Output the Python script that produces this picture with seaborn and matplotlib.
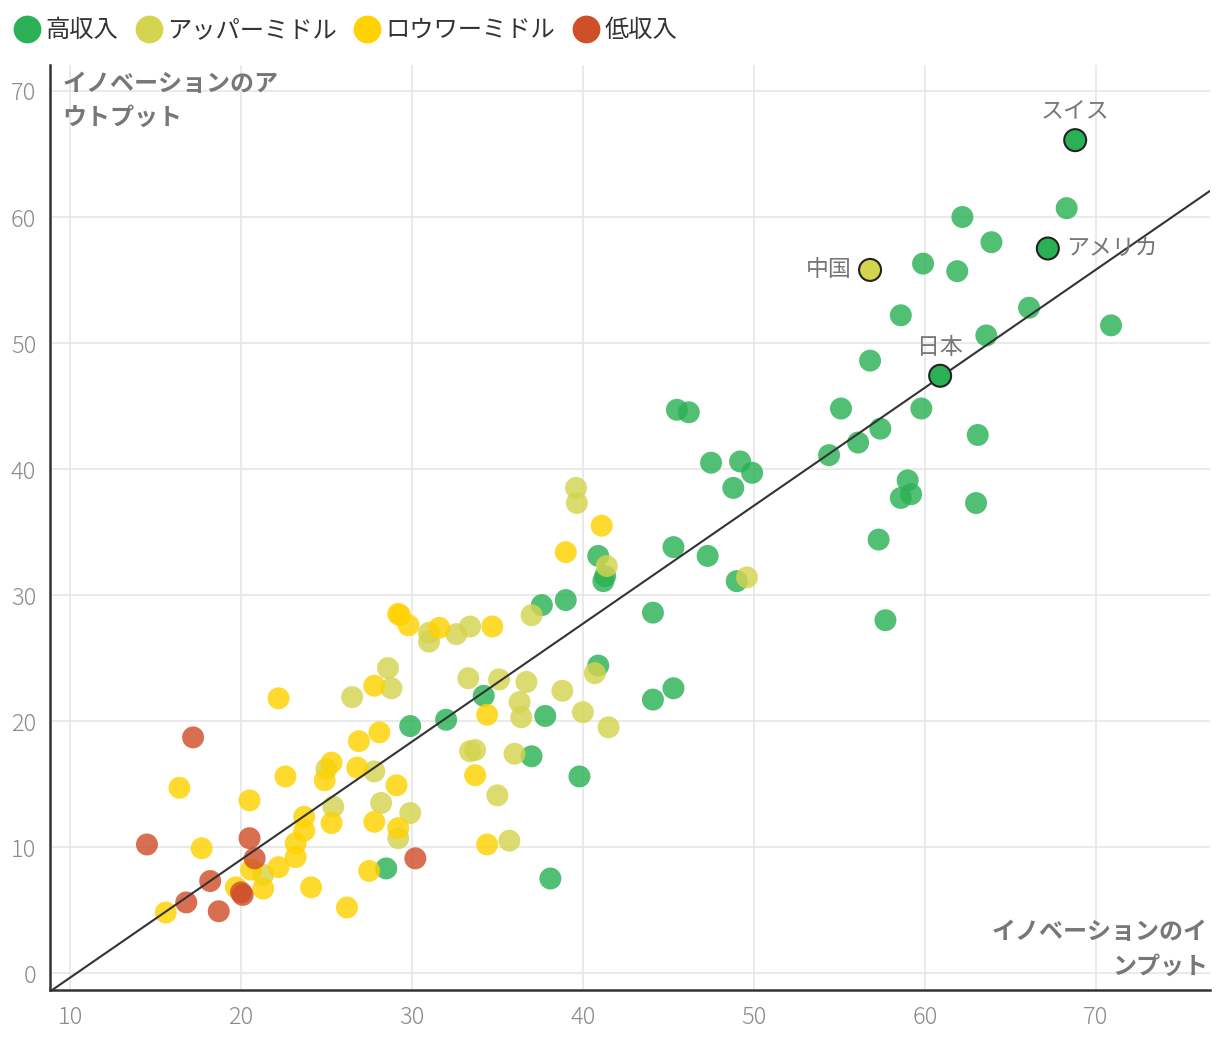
import numpy as np
import pandas as pd
import matplotlib
matplotlib.use('Agg')
import matplotlib.pyplot as plt
from matplotlib.lines import Line2D
import seaborn as sns

# イノベーションのインプット (x) / アウトプット (y)
high_x = [68.8, 67.2, 60.9, 68.3, 62.2, 59.9, 61.9, 63.9, 66.1, 70.9, 58.6, 63.6, 56.8, 59.8, 55.1,
          45.5, 46.2, 57.4, 56.1, 54.4, 63.1, 47.5, 49.2, 49.9, 48.8, 59.0, 58.6, 59.2, 63.0, 57.3,
          45.3, 47.3, 49.0, 40.9, 41.3, 41.2, 57.7, 44.1, 39.0, 37.6, 40.9, 34.2, 32.0, 29.9, 44.1,
          45.3, 37.8, 37.0, 39.8, 28.5, 38.1]
high_y = [66.1, 57.5, 47.4, 60.7, 60.0, 56.3, 55.7, 58.0, 52.8, 51.4, 52.2, 50.6, 48.6, 44.8, 44.8,
          44.7, 44.5, 43.2, 42.1, 41.1, 42.7, 40.5, 40.6, 39.7, 38.5, 39.1, 37.7, 38.0, 37.3, 34.4,
          33.8, 33.1, 31.1, 33.1, 31.5, 31.1, 28.0, 28.6, 29.6, 29.2, 24.4, 22.0, 20.1, 19.6, 21.7,
          22.6, 20.4, 17.2, 15.6, 8.3, 7.5]
high_names = ['スイス', 'アメリカ', '日本'] + [''] * 48

upper_x = [56.8, 39.6, 39.65, 41.4, 49.6, 40.7, 37.0, 31.0, 31.0, 32.6, 33.4, 28.6, 28.8, 26.5, 33.3,
           35.1, 36.7, 36.3, 36.4, 38.8, 40.0, 41.5, 33.4, 33.7, 36.0, 35.0, 29.9, 29.2, 35.7, 28.2,
           27.8, 25.0, 25.4, 21.3]
upper_y = [55.8, 38.5, 37.3, 32.3, 31.4, 23.8, 28.4, 27.0, 26.3, 26.9, 27.5, 24.2, 22.6, 21.9, 23.4,
           23.3, 23.1, 21.5, 20.3, 22.4, 20.7, 19.5, 17.6, 17.7, 17.4, 14.1, 12.7, 10.7, 10.5, 13.5,
           16.0, 16.2, 13.2, 7.8]
upper_names = ['中国'] + [''] * 33

lower_x = [15.6, 16.4, 17.7, 20.5, 22.2, 22.6, 19.7, 20.6, 21.3, 22.2, 23.2, 23.2, 23.7, 23.7, 24.1,
           24.9, 25.3, 25.3, 26.2, 26.9, 26.8, 27.8, 27.5, 28.1, 29.1, 29.2, 27.8, 29.2, 29.3, 29.8,
           31.6, 34.7, 39.0, 41.1, 34.4, 33.7, 34.4]
lower_y = [4.8, 14.7, 9.9, 13.7, 21.8, 15.6, 6.8, 8.2, 6.7, 8.4, 9.2, 10.3, 11.3, 12.4, 6.8,
           15.3, 11.9, 16.7, 5.2, 18.4, 16.3, 12.0, 8.1, 19.1, 14.9, 11.5, 22.8, 28.5, 28.4, 27.6,
           27.4, 27.5, 33.4, 35.5, 20.5, 15.7, 10.2]

low_x = [14.5, 17.2, 16.8, 18.2, 18.7, 20.0, 20.1, 20.5, 20.8, 30.2]
low_y = [10.2, 18.7, 5.6, 7.3, 4.9, 6.4, 6.2, 10.7, 9.1, 9.1]

groups = ['高収入', 'アッパーミドル', 'ロウワーミドル', '低収入']
colors = ['#2bb155', '#d4d44f', '#ffd200', '#cf4f29']

df = pd.DataFrame({
    'input': high_x + upper_x + lower_x + low_x,
    'output': high_y + upper_y + lower_y + low_y,
    'group': [groups[0]] * len(high_x) + [groups[1]] * len(upper_x)
             + [groups[2]] * len(lower_x) + [groups[3]] * len(low_x),
    'name': high_names + upper_names + [''] * (len(lower_x) + len(low_x)),
})

sns.set_theme(style='white')
plt.rcParams['font.family'] = ['Noto Sans CJK JP', 'DejaVu Sans']

fig = plt.figure(figsize=(12.2, 10.44), dpi=100)
ax = fig.add_axes([0.041, 0.0517, 0.951, 0.886])

plain = df[df['name'] == '']
named = df[df['name'] != '']
pal = dict(zip(groups, colors))
sns.scatterplot(data=plain, x='input', y='output', hue='group', palette=pal, hue_order=groups,
                s=250, alpha=0.82, linewidth=0, legend=False, ax=ax, zorder=3)
sns.scatterplot(data=named, x='input', y='output', hue='group', palette=pal, hue_order=groups,
                s=250, alpha=1, edgecolor='#222222', linewidth=1.5, legend=False, ax=ax, zorder=5)

ax.set_xlim(8.83, 76.7)
ax.set_ylim(-1.35, 72.06)

# 回帰直線
k, b = np.polyfit(df['input'], df['output'], 1)
xs = np.array(ax.get_xlim())
ax.plot(xs, k * xs + b, color='#333333', lw=1.5, zorder=4)

# 国名ラベル
offsets = {'スイス': (0, 12, 'center', 'bottom'), 'アメリカ': (13, 0, 'left', 'center'),
           '中国': (-13, 0, 'right', 'center'), '日本': (0, 12, 'center', 'bottom')}
for _, r in named.iterrows():
    dx, dy, ha, va = offsets[r['name']]
    ax.annotate(r['name'], (r['input'], r['output']), xytext=(dx, dy), textcoords='offset points',
                ha=ha, va=va, fontsize=16.5, color='#777777', zorder=6)

ax.set_xticks(range(10, 71, 10))
ax.set_yticks(range(0, 71, 10))
ax.grid(True, color='#e6e6e6', lw=1.2)
ax.set_axisbelow(True)
ax.tick_params(length=0, labelsize=17, labelcolor='#8c8c8c')
ax.tick_params(axis='x', pad=11)
ax.tick_params(axis='y', pad=10)
for lab in ax.get_xticklabels() + ax.get_yticklabels():
    lab.set_fontweight('light')
ax.set_xlabel('')
ax.set_ylabel('')
for side in ['top', 'right']:
    ax.spines[side].set_visible(False)
for side in ['left', 'bottom']:
    ax.spines[side].set_color('#333333')
    ax.spines[side].set_linewidth(1.8)

ax.text(0.011, 0.993, 'イノベーションのア\nウトプット', transform=ax.transAxes, ha='left', va='top',
        fontsize=17.3, fontweight='bold', color='#777777', linespacing=1.55)
ax.text(0.998, 0.012, 'イノベーションのイ\nンプット', transform=ax.transAxes, ha='right', va='bottom',
        fontsize=17.3, fontweight='bold', color='#777777', linespacing=1.55, multialignment='right')

handles = [Line2D([], [], marker='o', ls='', markersize=20, markerfacecolor=c, markeredgewidth=0)
           for c in colors]
fig.legend(handles, groups, loc='upper left', bbox_to_anchor=(-0.005, 1.0), ncol=4, frameon=False,
           fontsize=17.5, handletextpad=0.1, columnspacing=0.62, handlelength=1.3,
           labelcolor='#333333', borderaxespad=0.3)

fig.savefig('out.png', dpi=100)
